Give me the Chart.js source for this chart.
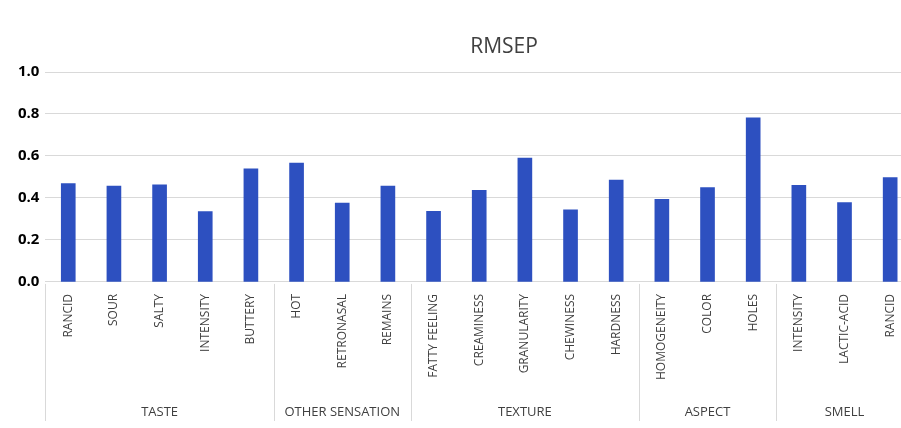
<!DOCTYPE html>
<html>
<head>
<meta charset="utf-8">
<script src="https://cdn.jsdelivr.net/npm/chart.js@4"></script>
<style>
  html, body { margin: 0; padding: 0; background: #fff; overflow: hidden; }
  #wrap { width: 1006px; height: 428px; }
</style>
</head>
<body>
<div id="wrap"><canvas id="rmsepChart"></canvas></div>
<script>
// Data RMSEP per atribut, dikelompokkan per kategori sensori.
const items = [
    'RANCID', 'SOUR', 'SALTY', 'INTENSITY', 'BUTTERY',
    'HOT', 'RETRONASAL', 'REMAINS',
    'FATTY FEELING', 'CREAMINESS', 'GRANULARITY', 'CHEWINESS', 'HARDNESS',
    'HOMOGENEITY', 'COLOR', 'HOLES',
    'INTENSITY', 'LACTIC-ACID', 'RANCID'
];
const rmsep = [
    0.468, 0.457, 0.463, 0.335, 0.539,
    0.566, 0.376, 0.457,
    0.336, 0.436, 0.59, 0.343, 0.485,
    0.394, 0.449, 0.782,
    0.46, 0.378, 0.497
];
const groups = ['TASTE', 'OTHER SENSATION', 'TEXTURE', 'ASPECT', 'SMELL'];
const groupSizes = [5, 3, 5, 3, 3];
const yTicks = [0, 0.2, 0.4, 0.6, 0.8, 1.0];

const labelFont = '"Open Sans", "Liberation Sans", sans-serif';

// Plugin: judul dan sumbu kategori bertingkat (garis pemisah + nama grup).
const groupAxis = {
    id: 'groupAxis',
    afterDraw(chart) {
        const { ctx, chartArea, scales } = chart;
        const x = scales.x;
        const step = x.getPixelForValue(1) - x.getPixelForValue(0);
        ctx.save();
        ctx.strokeStyle = '#d9d9d9';
        ctx.lineWidth = 1;
        ctx.fillStyle = '#404040';
        ctx.font = '13px ' + labelFont;
        ctx.textAlign = 'center';
        ctx.textBaseline = 'middle';
        let start = 0;
        groups.forEach((g, i) => {
            const left = x.getPixelForValue(start) - step / 2;
            const right = x.getPixelForValue(start + groupSizes[i] - 1) + step / 2;
            const lx = Math.round(left) + 0.5;
            ctx.beginPath();
            ctx.moveTo(lx, chartArea.bottom + 2);
            ctx.lineTo(lx, 421);
            ctx.stroke();
            ctx.fillText(g, (left + right) / 2, 412);
            start += groupSizes[i];
        });
        // judul
        ctx.font = '21px ' + labelFont;
        ctx.fillStyle = '#404040';
        ctx.fillText('RMSEP', 504, 47);
        ctx.restore();
    }
};

new Chart(document.getElementById('rmsepChart').getContext('2d'), {
    type: 'bar',
    data: {
        labels: items,
        datasets: [{
            label: 'RMSEP',
            data: rmsep,
            backgroundColor: '#2d50c0',
            barThickness: 14
        }]
    },
    options: {
        responsive: true,
        maintainAspectRatio: false,
        animation: false,
        layout: { padding: { top: 72, left: 12, right: 93, bottom: 44 } },
        plugins: {
            legend: { display: false },
            title: { display: false },
            tooltip: { enabled: false }
        },
        scales: {
            x: {
                grid: { display: false },
                border: { display: false },
                ticks: {
                    autoSkip: false,
                    minRotation: 90,
                    maxRotation: 90,
                    padding: 4,
                    color: '#404040',
                    font: { family: labelFont, size: 12 }
                }
            },
            y: {
                min: 0,
                max: 1,
                afterBuildTicks: (axis) => { axis.ticks = yTicks.map(v => ({ value: v })); },
                grid: { color: '#d9d9d9', drawTicks: false },
                border: { display: false },
                ticks: {
                    padding: 6,
                    color: '#000',
                    font: { family: labelFont, size: 15, weight: 'bold' },
                    callback: (v) => Number(v).toFixed(1)
                }
            }
        }
    },
    plugins: [groupAxis]
});
</script>
</body>
</html>
